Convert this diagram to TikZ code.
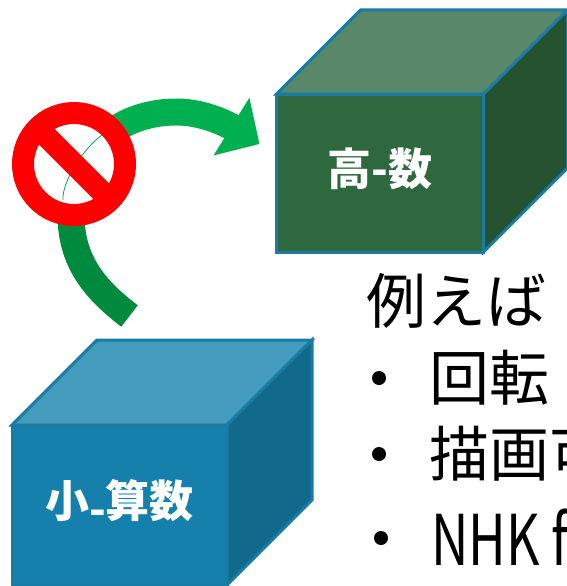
\documentclass[tikz,border=0pt]{standalone}
\usepackage{fontspec}
\usepackage{tikz}
\usetikzlibrary{arrows.meta, positioning}
\newfontfamily\jpfont{Noto Sans CJK JP}
\newfontfamily\narrowfont{Noto Sans CJK JP}[FakeStretch=0.74]
\definecolor{edgeBlue}{HTML}{1A7BA3}
\definecolor{highFront}{HTML}{2E683E}
\definecolor{highTop}{HTML}{59876A}
\definecolor{highSide}{HTML}{255332}
\definecolor{lowFront}{HTML}{1580AC}
\definecolor{lowTop}{HTML}{439BBE}
\definecolor{lowSide}{HTML}{11698C}
\definecolor{arrowDark}{HTML}{008A3E}
\definecolor{arrowLight}{HTML}{00B050}

\begin{document}
\begin{tikzpicture}[
x=1pt, y=-1pt,
cube/.style={rectangle, draw=edgeBlue, line width=3pt, inner sep=0pt, outer sep=0pt, text depth=13pt, text=white, font=\jpfont\bfseries\fontsize{44}{50}\selectfont},
face/.style={draw=edgeBlue, line width=3pt},
band/.style={line width=27pt},
ban/.style={circle, draw=red, fill=white, line width=22pt, inner sep=0pt, outer sep=0pt, minimum size=102pt},
note/.style={inner sep=0pt, anchor=base west, font=\jpfont\fontsize{60}{72}\selectfont},
dot/.style={circle, fill=black, inner sep=0pt, minimum size=14pt}
]
\clip (0,0) rectangle (567,586);

% the two boxes
\node[cube, fill=highFront, minimum width=207pt, minimum height=158pt] (high) at (380,173) {高-数};
\draw[face, fill=highTop] (high.north west) -- ++(84,-84) -- ++(207,0) -- (high.north east) -- cycle;
\draw[face, fill=highSide] (high.north east) -- ++(84,-84) -- ++(0,158) -- (high.south east) -- cycle;

\node[cube, fill=lowFront, minimum width=215pt, minimum height=160pt] (low) at (119.5,505) {小\raisebox{-8pt}{-}算数};
\draw[face, fill=lowTop] (low.north west) -- ++(85,-85) -- ++(215,0) -- (low.north east) -- cycle;
\draw[face, fill=lowSide] (low.north east) -- ++(85,-85) -- ++(0,160) -- (low.south east) -- cycle;

% curved arrow from low to high
\coordinate (tail) at ([shift={(10,-109)}]low.north);
\coordinate (tip) at ([shift={(-17,-29)}]high.west);
\coordinate (turn) at (71,215);
\coordinate (apex) at (177,112);
\draw[band, arrowDark] (tail) .. controls +(-30,-23) and +(0,50) .. (turn);
\draw[band, arrowLight, -{Triangle[width=66pt, length=33pt]}] (turn) .. controls +(0,-55) and +(-67,0) .. (apex)
  .. controls +(28,0) and +(-29,-18) .. (tip);

% no-entry sign on top of the arrow
\node[ban] (stop) at (74,164) {};
\draw[arrowLight, line width=0.8pt] ([shift={(-11,36)}]stop.center) .. controls +(-1,-20) and +(-17,12) .. ([shift={(28,-29)}]stop.center);
\draw[red, line width=22pt] ([shift={(225:51)}]stop.center) -- ([shift={(45:51)}]stop.center);

% text on the right
\node[note] (ex) at (366,323) {例えば};
\node[note] (b1) at (429,400) {回転};
\node[note] (b2) at (429,476) {描画可};
\node[note, font=\narrowfont\fontsize{70}{80}\selectfont] (b3) at (431,565) {NHK for School};
\node[note] (b4) at (429,639) {デジ};
\foreach \n/\dy in {b1/-22,b2/-22,b3/-27}
  \node[dot] at ([shift={(-50,\dy)}]\n.base west) {};
\end{tikzpicture}
\end{document}
